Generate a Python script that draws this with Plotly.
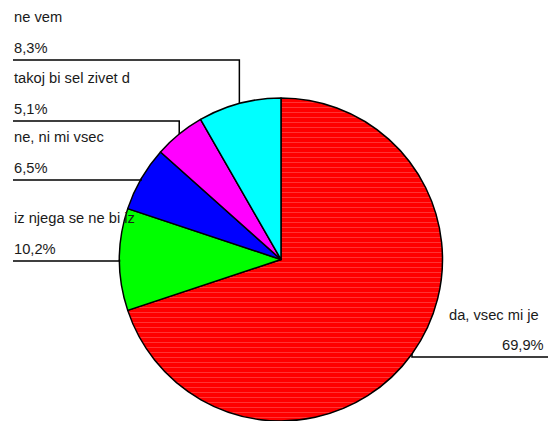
import math
import plotly.graph_objects as go

# ---- data ----
categories = ["da, vsec mi je", "iz njega se ne bi iz", "ne, ni mi vsec",
              "takoj bi sel zivet d", "ne vem"]
values = [69.9, 10.2, 6.5, 5.1, 8.3]
pct_labels = ["69,9%", "10,2%", "6,5%", "5,1%", "8,3%"]
colors = ["#FF0000", "#00FF00", "#0000FF", "#FF00FF", "#00FFFF"]

# ---- layout constants (pixels) ----
W, H = 548, 421
CX, CY, R = 281.0, 259.5, 161.5
LINE_Y = [357, 261, 180, 121, 60]          # y of the underline for each label
SIDE = ["right", "left", "left", "left", "left"]
LEFT_X = 13
RIGHT_X = 548
FONT = dict(family="Liberation Sans, Arial, sans-serif", size=14.7, color="#1a1a1a")


def px(x):
    return x / W


def py(y):
    return 1 - y / H


fig = go.Figure(go.Pie(
    labels=categories, values=values, sort=False, direction="clockwise",
    rotation=0,
    marker=dict(colors=colors, line=dict(color="black", width=1.5),
                pattern=dict(shape=["-", "", "", "", ""], fgcolor="#ff4a4a",
                             bgcolor=colors, fgopacity=0.7, size=5, solidity=0.2)),
    textinfo="none", showlegend=False,
    domain=dict(x=[px(CX - R), px(CX + R)], y=[py(CY + R), py(CY - R)]),
))

total = sum(values)
shapes, annotations = [], []
cum = 0.0
for i, v in enumerate(values):
    mid = (cum + v / 2) / total * 2 * math.pi
    cum += v
    mx = CX + R * math.sin(mid)
    my = CY - R * math.cos(mid)
    ly = LINE_Y[i]
    if SIDE[i] == "left":
        x0 = LEFT_X
        path = f"M {px(x0)},{py(ly)} L {px(mx)},{py(ly)} L {px(mx)},{py(my)}"
        annotations.append(dict(x=px(LEFT_X - 1), y=py(ly - 43), xref="paper", yref="paper",
                                text=categories[i], showarrow=False, xanchor="left",
                                yanchor="middle", font=FONT))
        annotations.append(dict(x=px(LEFT_X - 1), y=py(ly - 12), xref="paper", yref="paper",
                                text=pct_labels[i], showarrow=False, xanchor="left",
                                yanchor="middle", font=FONT))
    else:
        x0 = RIGHT_X
        path = f"M {px(x0)},{py(ly)} L {px(mx)},{py(ly)} L {px(mx)},{py(my)}"
        annotations.append(dict(x=px(447), y=py(ly - 42), xref="paper", yref="paper",
                                text=categories[i], showarrow=False, xanchor="left",
                                yanchor="middle", font=FONT))
        annotations.append(dict(x=px(546), y=py(ly - 12), xref="paper", yref="paper",
                                text=pct_labels[i], showarrow=False, xanchor="right",
                                yanchor="middle", font=FONT))
    shapes.append(dict(type="path", path=path, xref="paper", yref="paper",
                       line=dict(color="black", width=1.5)))

fig.update_layout(
    width=W, height=H, margin=dict(l=0, r=0, t=0, b=0),
    paper_bgcolor="white", plot_bgcolor="white",
    shapes=shapes, annotations=annotations,
)
fig.write_html(
    "out.html",
    config={"displayModeBar": False},
    post_script="document.body.style.margin='0';document.body.style.overflow='hidden';",
)
